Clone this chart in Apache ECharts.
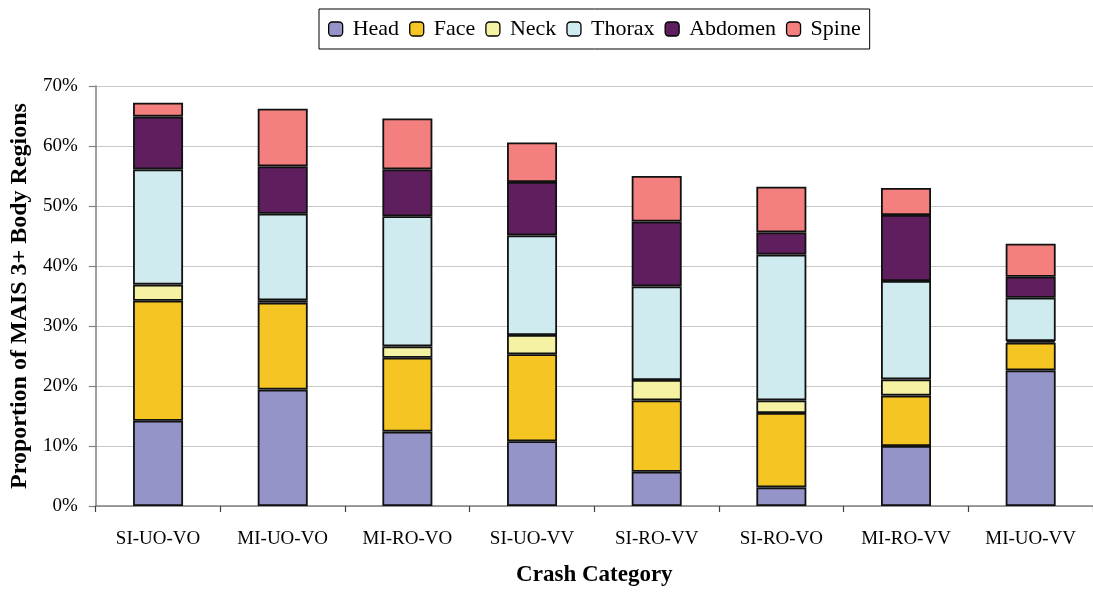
<!DOCTYPE html>
<html>
<head>
<meta charset="utf-8">
<script src="https://cdn.jsdelivr.net/npm/echarts@6/dist/echarts.min.js"></script>
<style>
  html, body { margin: 0; padding: 0; background: #fff; }
  #chart { width: 1093px; height: 592px; }
</style>
</head>
<body>
<div id="chart"></div>
<script>
// crash categories along the x axis
const categories = ['SI-UO-VO', 'MI-UO-VO', 'MI-RO-VO', 'SI-UO-VV', 'SI-RO-VV', 'SI-RO-VO', 'MI-RO-VV', 'MI-UO-VV']

// proportion (%) of MAIS 3+ injuries by body region
const head = [14.2, 19.4, 12.4, 10.8, 5.7, 3.1, 10.0, 22.6]
const face = [20.0, 14.5, 12.3, 14.5, 11.9, 12.4, 8.4, 4.6]
const neck = [2.7, 0.4, 1.9, 3.2, 3.4, 2.1, 2.7, 0.3]
const thorax = [19.2, 14.4, 21.7, 16.6, 15.6, 24.3, 16.4, 7.2]
const abdomen = [8.8, 7.9, 7.8, 8.9, 10.8, 3.7, 11.0, 3.5]
const spine = [2.3, 9.6, 8.5, 6.6, 7.6, 7.6, 4.5, 5.5]

const regions = ['Head', 'Face', 'Neck', 'Thorax', 'Abdomen', 'Spine']
const regionData = [head, face, neck, thorax, abdomen, spine]
const colors = ['#9494C8', '#F5C623', '#F5F3A3', '#D0EBEF', '#5F1F5F', '#F47F7F']

const serif = '"Liberation Serif", "Times New Roman", serif'

const chart = echarts.init(document.getElementById('chart'), null, { renderer: 'canvas' })

const series = regions.map(function(name, i) {
  return {
    name: name,
    type: 'bar',
    stack: 'total',
    barWidth: 50,
    data: regionData[i],
    itemStyle: {
      color: colors[i],
      borderColor: '#111',
      borderWidth: 1.8
    },
    emphasis: { disabled: true }
  }
})

chart.setOption({
  animation: false,
  color: colors,
  textStyle: { fontFamily: serif },
  legend: {
    left: 319,
    top: 9,
    padding: [9, 9],
    itemWidth: 14,
    itemHeight: 14,
    itemGap: 10,
    borderColor: '#000',
    borderWidth: 1,
    itemStyle: { borderColor: '#000', borderWidth: 1.3 },
    textStyle: {
      fontFamily: serif,
      fontSize: 22,
      color: '#000',
      padding: [0, 0, 0, 5]
    },
    data: regions
  },
  grid: {
    left: 95,
    top: 86,
    width: 1005,
    height: 425,
    containLabel: false
  },
  xAxis: {
    type: 'category',
    data: categories,
    name: 'Crash Category',
    nameLocation: 'middle',
    nameGap: 58,
    nameTextStyle: {
      fontFamily: serif,
      fontSize: 23,
      fontWeight: 'bold',
      color: '#000'
    },
    axisLine: { lineStyle: { color: '#808080', width: 1.5 } },
    axisTick: { show: true, length: 6, lineStyle: { color: '#404040', width: 1.2 } },
    axisLabel: {
      margin: 24,
      fontFamily: serif,
      fontSize: 19,
      color: '#000'
    },
    splitLine: { show: false }
  },
  yAxis: {
    type: 'value',
    min: 0,
    max: 70,
    interval: 10,
    name: 'Proportion of MAIS 3+ Body Regions',
    nameLocation: 'middle',
    nameGap: 63,
    nameTextStyle: {
      fontFamily: serif,
      fontSize: 24,
      fontWeight: 'bold',
      color: '#000'
    },
    axisLine: { show: true, lineStyle: { color: '#808080', width: 1.5 } },
    axisTick: { show: true, length: 7, lineStyle: { color: '#808080', width: 1.2 } },
    axisLabel: {
      margin: 18,
      fontFamily: serif,
      fontSize: 19,
      color: '#000',
      formatter: '{value}%'
    },
    splitLine: { show: true, lineStyle: { color: '#c8c8c8', width: 1.2 } }
  },
  series: series
})
</script>
</body>
</html>
